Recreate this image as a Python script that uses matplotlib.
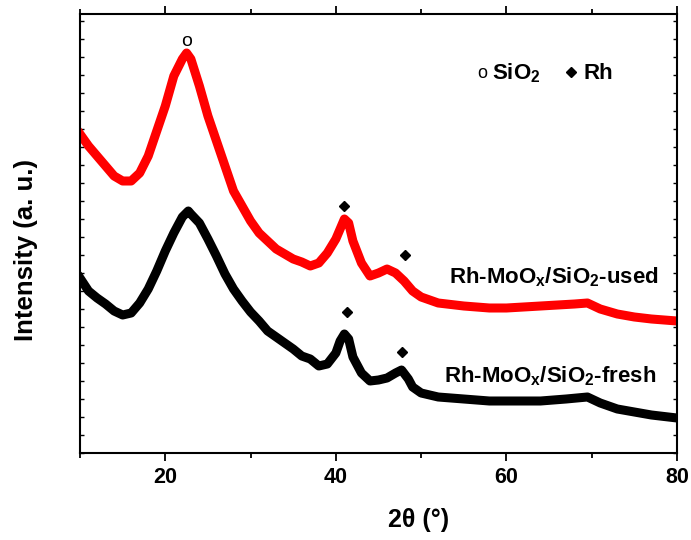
import matplotlib
matplotlib.use("Agg")
import matplotlib.pyplot as plt
from matplotlib.ticker import MultipleLocator, NullFormatter

# 2theta positions (degrees) and intensities (a.u.)
used_x = [10, 11, 12, 13, 14, 15, 16, 17, 18, 19, 20, 21, 22, 22.5, 23, 24, 25, 26, 27, 28,
          29, 30, 31, 32, 33, 34, 35, 36, 37, 38, 39, 40, 40.5, 41, 41.5, 42, 43, 44, 45, 46,
          47, 48, 49, 50, 52, 55, 58, 60, 62, 64, 66, 68, 69.5, 71, 73, 75, 77, 80]
used_y = [319, 307, 297, 287, 277, 272, 272, 280, 297, 322, 347, 377, 394, 400, 394, 367, 337, 312, 287, 262,
          247, 232, 220, 212, 204, 199, 194, 191, 187, 190, 200, 214, 224, 234, 230, 212, 190, 177, 180, 184,
          180, 172, 162, 156, 150, 147, 145, 145, 146, 147, 148, 149, 150, 144, 139, 136, 134, 132]

fresh_x = [10, 11, 12, 13, 14, 15, 16, 17, 18, 19, 20, 21, 22, 22.7, 23, 24, 25, 26, 27, 28,
           29, 30, 31, 32, 33, 34, 35, 36, 37, 38, 39, 40, 40.5, 41, 41.5, 42, 43, 44, 45, 46,
           47, 47.7, 48.5, 49, 50, 52, 55, 58, 60, 64, 67, 69.5, 71, 73, 75, 77, 80]
fresh_y = [175, 162, 155, 149, 142, 138, 140, 150, 164, 182, 202, 220, 236, 242, 239, 230, 214, 197, 179, 164,
           152, 141, 132, 122, 116, 110, 104, 97, 94, 87, 89, 100, 112, 119, 114, 96, 80, 72, 73, 75,
           80, 83, 74, 66, 60, 56, 54, 52, 52, 52, 54, 56, 50, 44, 41, 38, 35]

# peak markers
sio2_marks_x = [22.5]
sio2_marks_y = [412]
rh_marks_x = [41.0, 48.1, 41.3, 47.7]
rh_marks_y = [247, 198, 141, 101]

sample_labels = ["Rh-MoO$_\\mathbf{x}$/SiO$_\\mathbf{2}$-used", "Rh-MoO$_\\mathbf{x}$/SiO$_\\mathbf{2}$-fresh"]

plt.rcParams['font.family'] = ['Liberation Sans', 'DejaVu Sans']
plt.rcParams['font.weight'] = 'bold'
plt.rcParams['mathtext.fontset'] = 'custom'
plt.rcParams['mathtext.rm'] = 'Liberation Sans:bold'
plt.rcParams['mathtext.bf'] = 'Liberation Sans:bold'

fig = plt.figure(figsize=(6.91, 5.40), dpi=100)
ax = fig.add_axes([80/691, 1-453/540, 597/691, 439/540])

ax.plot(used_x, used_y, color='#ff0000', lw=6.5, solid_joinstyle='round')
ax.plot(fresh_x, fresh_y, color='black', lw=6.5, solid_joinstyle='round')

for sx, sy in zip(sio2_marks_x, sio2_marks_y):
    ax.text(sx, sy, 'o', ha='center', va='center', fontsize=14, fontweight='normal')
ax.plot(rh_marks_x, rh_marks_y, ls='none', marker='D', ms=5, color='black')

ax.text(0.97, 0.40, sample_labels[0], transform=ax.transAxes, ha='right', va='center', fontsize=16, fontweight='bold')
ax.text(0.965, 0.175, sample_labels[1], transform=ax.transAxes, ha='right', va='center', fontsize=16, fontweight='bold')

# legend-like annotation
ax.text(0.674, 0.865, 'o', transform=ax.transAxes, ha='center', va='center', fontsize=13, fontweight='normal')
ax.text(0.690, 0.865, 'SiO$_\\mathbf{2}$', transform=ax.transAxes, ha='left', va='center', fontsize=16, fontweight='bold')
ax.plot([0.822], [0.868], transform=ax.transAxes, marker='D', ms=5, color='black', ls='none')
ax.text(0.844, 0.865, 'Rh', transform=ax.transAxes, ha='left', va='center', fontsize=16, fontweight='bold')

ax.set_xlim(10, 80)
ax.set_ylim(0, 439)
ax.xaxis.set_major_locator(MultipleLocator(20))
ax.xaxis.set_minor_locator(MultipleLocator(10))
ax.yaxis.set_major_locator(MultipleLocator(18))
ax.yaxis.set_major_formatter(NullFormatter())
ax.tick_params(axis='x', which='major', direction='out', length=6, width=1.3, labelsize=15.5, pad=4)
ax.tick_params(axis='x', which='minor', direction='out', length=3.5, width=1.3)
ax.tick_params(axis='y', which='major', direction='in', length=3, width=1, left=True, right=True)
ax.tick_params(axis='x', which='both', top=True)
for lab in ax.get_xticklabels():
    lab.set_fontweight('bold')
for s in ax.spines.values():
    s.set_linewidth(1.5)

ax.set_xlabel('2θ (°)', fontsize=18, fontweight='bold')
ax.xaxis.set_label_coords((419-80)/597, -(508-453)/439)
ax.set_ylabel('Intensity (a. u.)', fontsize=18.5, fontweight='bold')
ax.yaxis.set_label_coords(-(80-38)/597, (453-250)/439)

fig.savefig('out.png', dpi=100)
